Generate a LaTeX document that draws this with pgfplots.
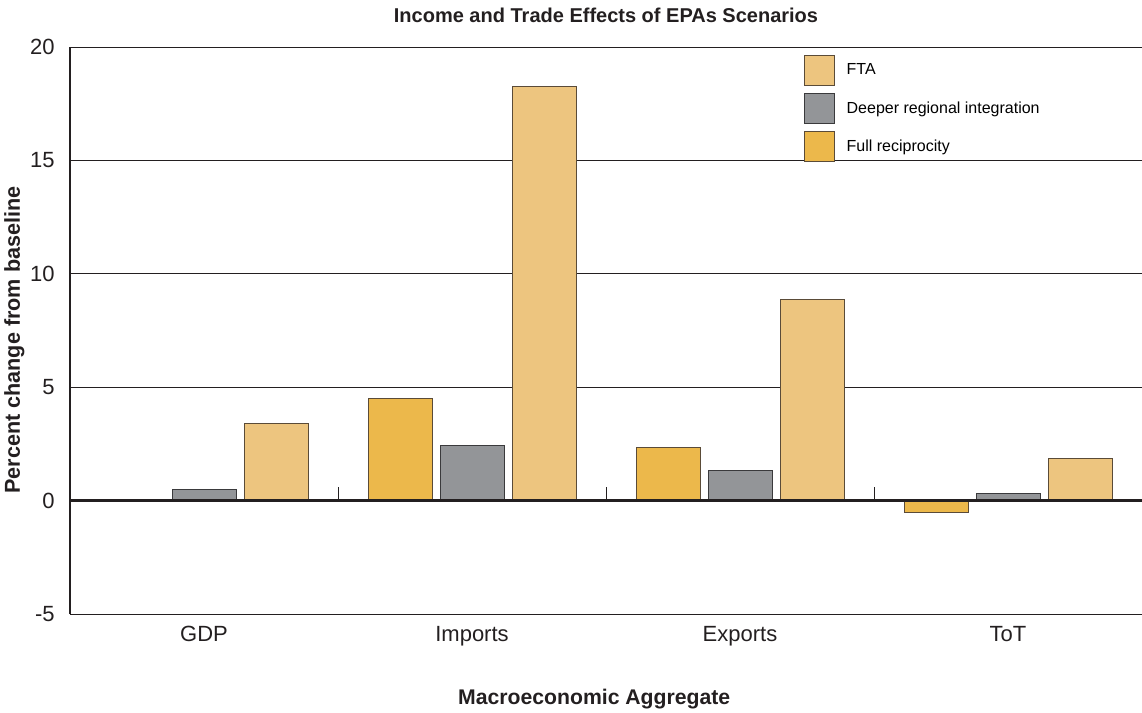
\documentclass[border=0pt]{standalone}
\usepackage{pgfplots}
\pgfplotsset{compat=1.18}
\usepackage{fontspec}
\setmainfont{Liberation Sans}
\definecolor{fta}{HTML}{EDC57F}
\definecolor{dri}{HTML}{939598}
\definecolor{frc}{HTML}{ECB84B}
\definecolor{edgeo}{HTML}{5A4B38}
\definecolor{edgeg}{HTML}{3A3A3C}
\definecolor{axk}{HTML}{231F20}
\begin{document}
\begin{tikzpicture}
\begin{axis}[
  scale only axis, width=536pt, height=283.5pt,
  xmin=-0.5, xmax=3.5, ymin=-5, ymax=20,
  axis x line*=bottom, axis y line*=left,
  x axis line style={line width=0.5pt, color=axk},
  y axis line style={line width=1pt, color=axk},
  ytick={-5,0,5,10,15,20},
  ymajorgrids, major grid style={line width=0.5pt, color=axk},
  xtick={0,1,2,3}, xticklabels={GDP,Imports,Exports,ToT},
  major tick length=0pt,
  /pgf/number format/assume math mode=true,
  tick label style={font=\fontsize{11}{13}\selectfont, color=axk},
  yticklabel style={inner sep=0pt, xshift=-7.5pt},
  xticklabel style={inner sep=0pt, yshift=-6pt},
  ybar, bar width=32pt,
  clip=false,
  xlabel={Macroeconomic Aggregate},
  ylabel={Percent change from baseline},
  every axis x label/.style={at={(rel axis cs:0.489,-0.15)}, anchor=center, font=\fontsize{10.6}{12}\selectfont\bfseries, color=axk},
  every axis y label/.style={at={(rel axis cs:-0.052,0.483)}, rotate=90, anchor=center, font=\fontsize{10.8}{12}\selectfont\bfseries, color=axk},
  title={Income and Trade Effects of EPAs Scenarios},
  every axis title/.style={at={(rel axis cs:0.5,1.056)}, anchor=center, font=\fontsize{10}{12}\selectfont\bfseries, color=axk},
  legend image code/.code={\draw[#1, line width=0.5pt] (0pt,-7.5pt) rectangle (15pt,7.5pt);},
  legend cell align=left,
  legend style={draw=none, fill=none, inner sep=0pt, at={(rel axis cs:0.684,0.986)}, anchor=north west,
    font=\fontsize{8}{9.5}\selectfont, row sep=3.5pt,
    nodes={inner sep=0pt},
    /tikz/every odd column/.append style={column sep=6pt}},
]
\addplot[fill=fta, draw=edgeo, line width=0.5pt, bar shift=36pt] coordinates {(0,3.38) (1,18.28) (2,8.85) (3,1.84)};
\addlegendentry{FTA}
\addplot[fill=dri, draw=edgeg, line width=0.5pt, bar shift=0pt] coordinates {(0,0.50) (1,2.41) (2,1.31) (3,0.30)};
\addlegendentry{Deeper regional integration}
\addplot[fill=frc, draw=edgeo, line width=0.5pt, bar shift=-36pt] coordinates {(1,4.48) (2,2.32) (3,-0.54)};
\addlegendentry{Full reciprocity}
\draw[line width=1.5pt, color=axk] (axis cs:-0.5,0) -- (axis cs:3.5,0);
\draw[line width=0.5pt, color=axk] (axis cs:0.5,0) -- (axis cs:0.5,0.6);
\draw[line width=0.5pt, color=axk] (axis cs:1.5,0) -- (axis cs:1.5,0.6);
\draw[line width=0.5pt, color=axk] (axis cs:2.5,0) -- (axis cs:2.5,0.6);
\coordinate (bbsw) at (rel axis cs:-0.0653,-0.1746);
\coordinate (bbne) at (rel axis cs:1,1.0829);
\end{axis}
\pgfresetboundingbox
\path[use as bounding box] (bbsw) rectangle (bbne);
\end{tikzpicture}
\end{document}
